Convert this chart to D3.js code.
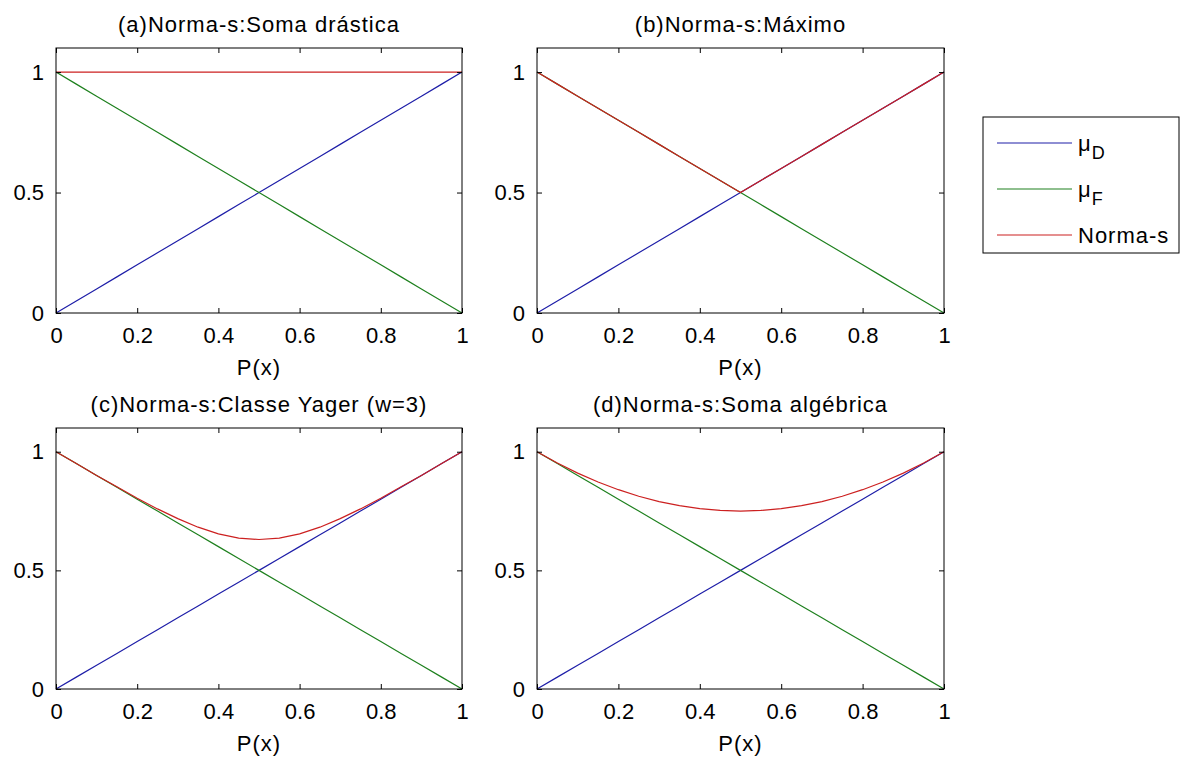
<!DOCTYPE html>
<head>
    <meta charset="utf-8">
    <title>Normas-s</title>
    <style>
        body { margin: 0; background: #fff; }
        svg { display: block; font-family: "Liberation Sans", Arial, sans-serif; }
        .axis text { font-size: 22px; fill: #000; font-family: "Liberation Sans", Arial, sans-serif; }
        .axis line { stroke: #000; }
        .lbl { font-size: 22px; fill: #000; letter-spacing: 1px; }
    </style>
</head>
<body>

<script src="https://cdnjs.cloudflare.com/ajax/libs/d3/7.8.5/d3.min.js"></script>

<script>

    // sample points along P(x)
    var xs = [0, 0.05, 0.1, 0.15, 0.2, 0.25, 0.3, 0.35, 0.4, 0.45, 0.5,
              0.55, 0.6, 0.65, 0.7, 0.75, 0.8, 0.85, 0.9, 0.95, 1];

    var muD = [0, 0.05, 0.1, 0.15, 0.2, 0.25, 0.3, 0.35, 0.4, 0.45, 0.5,
               0.55, 0.6, 0.65, 0.7, 0.75, 0.8, 0.85, 0.9, 0.95, 1];
    var muF = [1, 0.95, 0.9, 0.85, 0.8, 0.75, 0.7, 0.65, 0.6, 0.55, 0.5,
               0.45, 0.4, 0.35, 0.3, 0.25, 0.2, 0.15, 0.1, 0.05, 0];

    var sDrastica = [1, 1, 1, 1, 1, 1, 1, 1, 1, 1, 1,
                     1, 1, 1, 1, 1, 1, 1, 1, 1, 1];
    var sMaximo = [1, 0.95, 0.9, 0.85, 0.8, 0.75, 0.7, 0.65, 0.6, 0.55, 0.5,
                   0.55, 0.6, 0.65, 0.7, 0.75, 0.8, 0.85, 0.9, 0.95, 1];
    var sYager = [1, 0.950, 0.900, 0.852, 0.804, 0.759, 0.718, 0.682, 0.654, 0.636, 0.630,
                  0.636, 0.654, 0.682, 0.718, 0.759, 0.804, 0.852, 0.900, 0.950, 1];
    var sAlgebrica = [1, 0.9525, 0.91, 0.8725, 0.84, 0.8125, 0.79, 0.7725, 0.76, 0.7525, 0.75,
                      0.7525, 0.76, 0.7725, 0.79, 0.8125, 0.84, 0.8725, 0.91, 0.9525, 1];

    var titles = ["(a)Norma-s:Soma drástica", "(b)Norma-s:Máximo",
                  "(c)Norma-s:Classe Yager (w=3)", "(d)Norma-s:Soma algébrica"];
    var normas = [sDrastica, sMaximo, sYager, sAlgebrica];

    var xTicks = [0, 0.2, 0.4, 0.6, 0.8, 1];
    var yTicks = [0, 0.5, 1];
    var xLabel = "P(x)";

    var colors = { d: "#1e1ea8", f: "#1e801e", s: "#cc2020" };
    var fmt = d3.format('~g');

    // panel boxes (left, top, right, bottom)
    var boxes = [
        [56, 48, 462, 313],
        [537, 48, 944, 313],
        [56, 428, 462, 689],
        [537, 428, 944, 689]
    ];

    var svg = d3.select('body').append('svg')
        .attr('width', 1184)
        .attr('height', 760);

    svg.append('rect').attr('width', 1184).attr('height', 760).attr('fill', '#fff');

    boxes.forEach(function(b, i) {
        var w = b[2] - b[0], h = b[3] - b[1];

        var x = d3.scaleLinear().domain([0, 1]).range([0, w]);
        var y = d3.scaleLinear().domain([0, 1.1]).range([h, 0]);

        var g = svg.append('g')
            .attr('transform', 'translate(' + b[0] + ',' + b[1] + ')');

        var line = d3.line()
            .x(function(d) { return x(d[0]); })
            .y(function(d) { return y(d[1]); });

        var series = [
            { v: muD, c: colors.d },
            { v: muF, c: colors.f },
            { v: normas[i], c: colors.s }
        ];

        series.forEach(function(s) {
            g.append('path')
                .datum(xs.map(function(xv, k) { return [xv, s.v[k]]; }))
                .attr('fill', 'none')
                .attr('stroke', s.c)
                .attr('stroke-width', 1.2)
                .attr('d', line);
        });

        // ticks pointing inward on all four sides
        g.append('g').attr('class', 'axis')
            .attr('transform', 'translate(0,' + h + ')')
            .call(d3.axisBottom(x).tickValues(xTicks).tickFormat(fmt).tickSizeInner(-5).tickSizeOuter(0).tickPadding(14))
            .call(function(a) { a.select('.domain').remove(); a.selectAll('text').attr('font-size', null); });

        g.append('g').attr('class', 'axis')
            .call(d3.axisTop(x).tickValues(xTicks).tickSizeInner(-5).tickSizeOuter(0).tickFormat(''))
            .call(function(a) { a.select('.domain').remove(); });

        g.append('g').attr('class', 'axis')
            .call(d3.axisLeft(y).tickValues(yTicks).tickFormat(fmt).tickSizeInner(-5).tickSizeOuter(0).tickPadding(12))
            .call(function(a) { a.select('.domain').remove(); a.selectAll('text').attr('font-size', null); });

        g.append('g').attr('class', 'axis')
            .attr('transform', 'translate(' + w + ',0)')
            .call(d3.axisRight(y).tickValues(yTicks).tickSizeInner(-5).tickSizeOuter(0).tickFormat(''))
            .call(function(a) { a.select('.domain').remove(); });

        g.append('rect')
            .attr('width', w)
            .attr('height', h)
            .attr('fill', 'none')
            .attr('stroke', '#000')
            .attr('stroke-width', 1);

        g.append('text')
            .attr('class', 'lbl')
            .attr('x', w / 2)
            .attr('y', -16)
            .attr('text-anchor', 'middle')
            .text(titles[i]);

        g.append('text')
            .attr('class', 'lbl')
            .attr('x', w / 2)
            .attr('y', h + 62)
            .attr('text-anchor', 'middle')
            .text(xLabel);
    });

    // legend
    var legendItems = [
        { name: "μ", sub: "D", c: colors.d },
        { name: "μ", sub: "F", c: colors.f },
        { name: "Norma-s", sub: null, c: colors.s }
    ];

    var legend = svg.append('g').attr('transform', 'translate(983,117)');

    legend.append('rect')
        .attr('width', 196)
        .attr('height', 136)
        .attr('fill', '#fff')
        .attr('stroke', '#000')
        .attr('stroke-width', 1);

    legendItems.forEach(function(it, i) {
        var row = legend.append('g').attr('transform', 'translate(0,' + (26 + i * 46) + ')');
        row.append('line')
            .attr('x1', 14).attr('x2', 89)
            .attr('stroke', it.c)
            .attr('stroke-width', 1.2);
        var t = row.append('text')
            .attr('class', 'lbl')
            .attr('x', 95)
            .attr('y', 8);
        t.append('tspan').text(it.name);
        if (it.sub) {
            t.append('tspan').attr('dy', 8).attr('font-size', '18px').text(it.sub);
        }
    });

</script>

</body>
